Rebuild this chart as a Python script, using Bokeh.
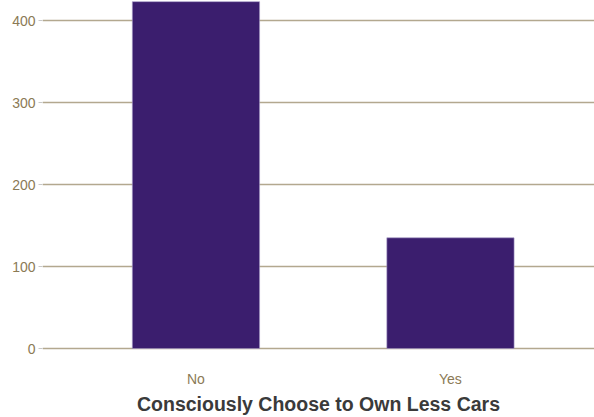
from bokeh.plotting import figure
from bokeh.models import Range1d, FixedTicker, ColumnDataSource
from bokeh.embed import file_html
from bokeh.resources import INLINE

categories = ["No", "Yes"]
counts = [423, 135]
y_ticks = [0, 100, 200, 300, 400]
x_title = "Consciously Choose to Own Less Cars"

positions = [i + 1 for i in range(len(categories))]
src = ColumnDataSource(dict(x=positions, top=counts, label=categories))

p = figure(width=594, height=417, output_backend="svg", toolbar_location=None,
           x_range=Range1d(0.397, 2.566), y_range=Range1d(-20.7, 424.4),
           min_border_left=42, min_border_right=0, min_border_top=0, min_border_bottom=52)
p.outline_line_color = None
p.background_fill_color = "white"

p.vbar(x="x", top="top", width=0.5, bottom=0, source=src,
       fill_color="#3b1e6e", line_color="#a89cc8", line_width=0.6)

# y axis
p.yaxis.ticker = FixedTicker(ticks=y_ticks)
p.yaxis.axis_line_color = None
p.yaxis.major_tick_line_color = "#c8c8c8"
p.yaxis.major_tick_out = 4
p.yaxis.major_tick_in = 0
p.yaxis.minor_tick_line_color = None
p.yaxis.major_label_standoff = 3
p.yaxis.major_label_text_color = "#8b7a55"
p.yaxis.major_label_text_font = "Liberation Sans"
p.yaxis.major_label_text_font_size = "14px"

# x axis
p.xaxis.ticker = FixedTicker(ticks=positions)
p.xaxis.major_label_overrides = {pos: lab for pos, lab in zip(positions, categories)}
p.xaxis.axis_line_color = None
p.xaxis.major_tick_line_color = None
p.xaxis.major_tick_out = 0
p.xaxis.major_tick_in = 0
p.xaxis.minor_tick_line_color = None
p.xaxis.major_label_standoff = 5
p.xaxis.major_label_text_color = "#8b7a55"
p.xaxis.major_label_text_font = "Liberation Sans"
p.xaxis.major_label_text_font_size = "14px"
p.xaxis.axis_label = x_title
p.xaxis.axis_label_text_font = "Liberation Sans"
p.xaxis.axis_label_text_font_style = "bold"
p.xaxis.axis_label_text_font_size = "19.5px"
p.xaxis.axis_label_text_color = "#3a3a3a"
p.xaxis.axis_label_standoff = 3

p.xgrid.grid_line_color = None
p.ygrid.grid_line_color = "#b3a88f"
p.ygrid.grid_line_width = 1.5
p.ygrid.level = "underlay"

open("out.html", "w").write(file_html(p, INLINE))
